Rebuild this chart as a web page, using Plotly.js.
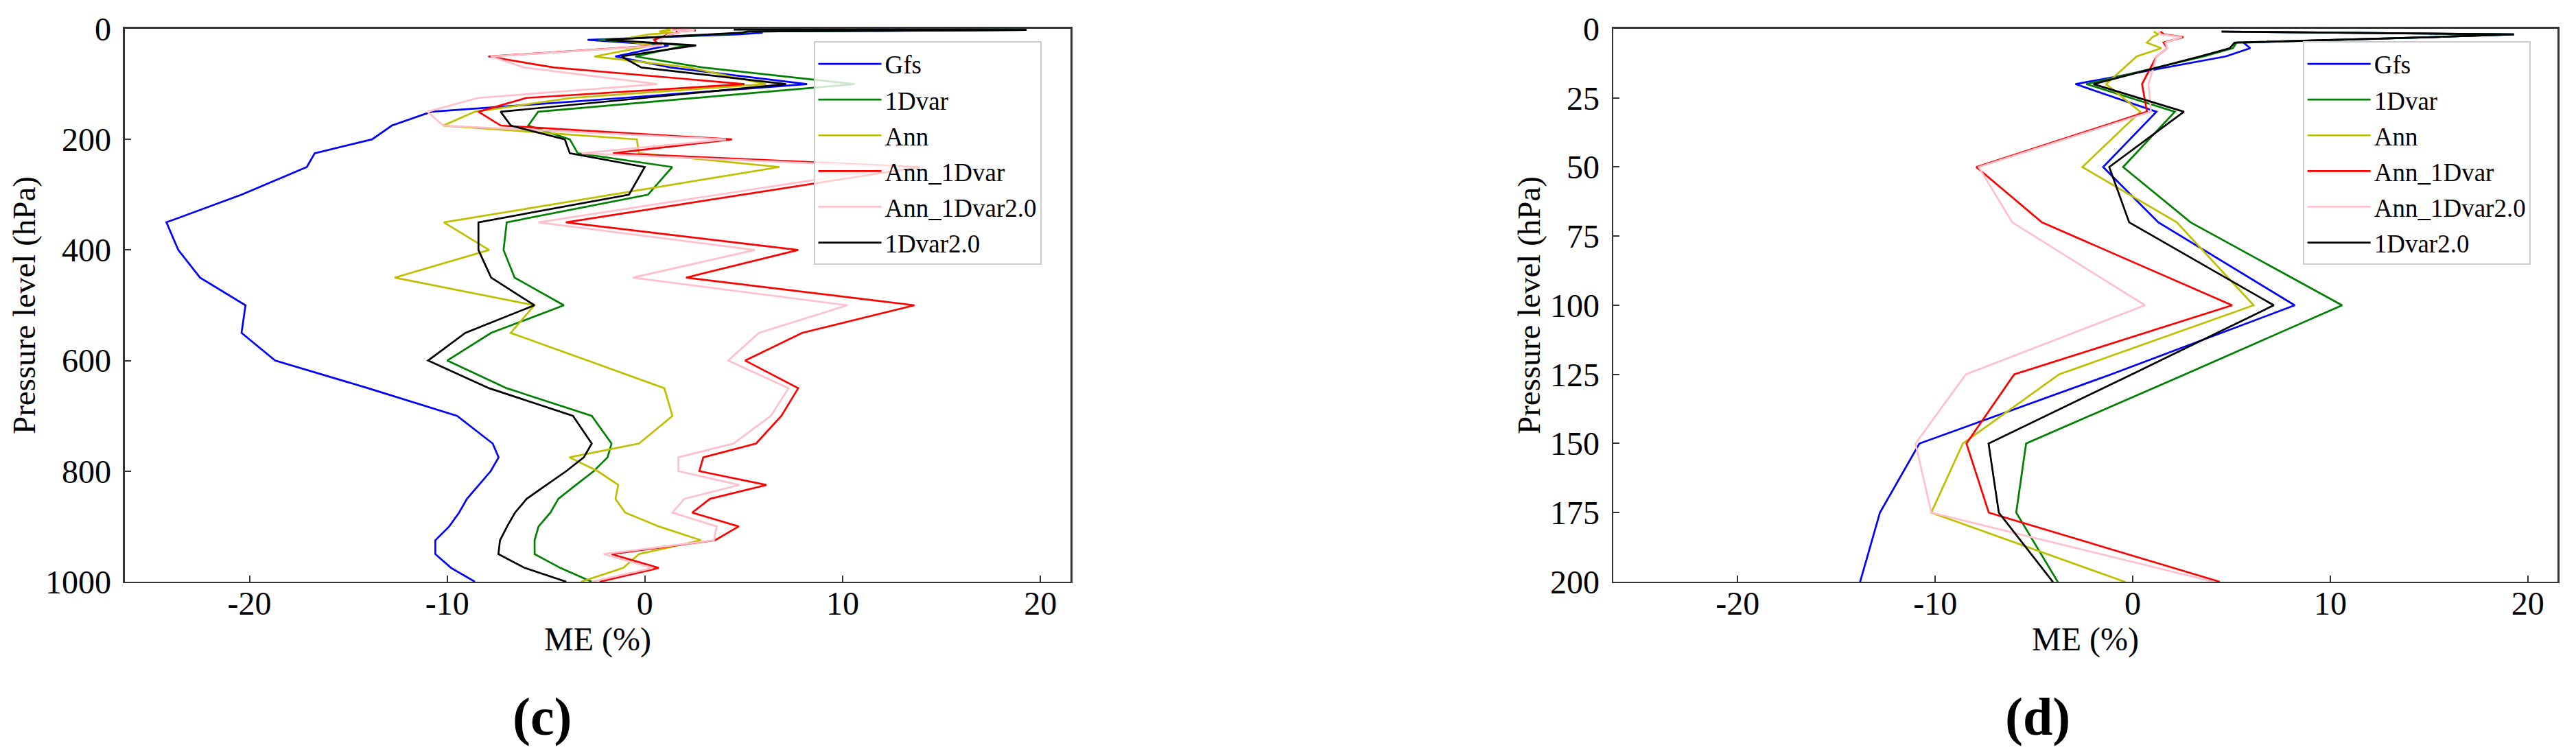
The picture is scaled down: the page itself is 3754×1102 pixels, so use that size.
<!DOCTYPE html>
<html>
<head>
<meta charset="utf-8">
<script src="https://cdn.plot.ly/plotly-3.0.1.min.js"></script>
<style>html,body{margin:0;padding:0;background:#fff}</style>
</head>
<body>
<div id="chart" style="width:3754px;height:1102px"></div>
<script>
// pressure levels (hPa)
const levels = [1, 2, 3, 5, 7, 10, 20, 30, 50, 70, 100, 125, 150, 175, 200, 225, 250, 300, 350, 400,
  450, 500, 550, 600, 650, 700, 750, 775, 800, 825, 850, 875, 900, 925, 950, 975, 1000];

// mean error (%) per level
const gfs = [4.5, 19.3, 15.2, 5.6, 5.95, 4.7, -2.9, 1.2, -1.5, 1.3, 8.2, -1.1, -10.8, -12.8, -13.8, -16.7, -17.1, -20.4, -24.2, -23.6,
  -22.5, -20.2, -20.4, -18.7, -14.0, -9.5, -7.7, -7.4, -7.8, -8.4, -9.0, -9.4, -9.9, -10.6, -10.6, -9.8, -8.6];
const dvar = [4.5, 19.3, 15.2, 5.25, 5.08, 3.6, -2.35, 2.13, -0.49, 2.93, 10.6, 2.64, -5.4, -5.9, -3.8, -3.4, 1.38, 0.15, -6.99, -7.15,
  -6.59, -4.1, -7.78, -10.0, -6.99, -2.69, -1.69, -1.89, -2.59, -3.49, -4.38, -4.78, -5.38, -5.58, -5.58, -4.28, -2.69];
const ann = [1.06, 1.3, 1.0, 0.72, 1.45, 0.2, -1.35, 0.38, -2.55, 2.23, 6.12, -3.73, -8.6, -10.2, -0.41, -0.31, 6.8, -1.65, -10.17, -7.88,
  -12.66, -5.59, -6.79, -2.9, 0.98, 1.39, -0.3, -3.82, -2.39, -1.35, -1.49, -1.0, 0.7, 2.83, -0.3, -1.1, -3.23];
const annDvar = [1.4, 1.6, 2.57, 1.56, 1.75, 1.2, 0.47, 0.72, -7.92, -4.6, 5.03, -6.0, -8.42, -7.29, 4.4, -1.61, 13.9, 4.9, -4.0, 7.75,
  2.08, 13.63, 7.95, 5.07, 7.75, 6.9, 5.62, 2.95, 2.75, 6.14, 3.29, 2.39, 4.74, 3.55, -1.69, 0.7, -2.29];
const annDvar2 = [1.3, 1.4, 2.5, 1.65, 1.75, 1.2, 0.8, 0.92, -7.8, -6.1, 0.62, -8.45, -11.0, -10.2, 4.1, -3.2, 12.8, 3.7, -5.39, 5.56,
  -0.61, 10.24, 5.76, 4.21, 7.26, 6.37, 4.48, 1.69, 1.69, 4.78, 1.99, 1.39, 3.63, 3.49, -2.09, 0.4, -2.69];
const dvar2 = [4.5, 19.3, 15.2, 5.16, 4.91, 3.4, -1.99, 2.59, -1.19, -0.18, 7.14, -0.05, -7.3, -6.78, -4.05, -3.8, -0.01, -0.81, -8.42, -8.42,
  -7.78, -5.59, -9.08, -10.97, -7.88, -3.64, -2.69, -3.09, -3.98, -4.98, -5.98, -6.57, -6.97, -7.33, -7.41, -6.08, -3.98];

const seriesNames = ['Gfs', '1Dvar', 'Ann', 'Ann_1Dvar', 'Ann_1Dvar2.0', '1Dvar2.0'];
const seriesValues = [gfs, dvar, ann, annDvar, annDvar2, dvar2];
const seriesColors = ['#0000ff', '#008000', '#bfbf00', '#ff0000', '#ffc0cb', '#000000'];

const xTickVals = [-20, -10, 0, 10, 20];
const xTickText = ['-20', '-10', '0', '10', '20'];
const yTickValsC = [0, 200, 400, 600, 800, 1000];
const yTickValsD = [0, 25, 50, 75, 100, 125, 150, 175, 200];

const serif = 'Liberation Serif, Times New Roman, serif';

const traces = [];
// panel (c): full column, panel (d): top 200 hPa
[['x', 'y', 'legend'], ['x2', 'y2', 'legend2']].forEach(function (p) {
    seriesNames.forEach(function (name, i) {
        traces.push({
            x: seriesValues[i],
            y: levels,
            name: name,
            legendgroup: p[2] + i,
            type: 'scatter',
            mode: 'lines',
            line: { color: seriesColors[i], width: 2.7 },
            xaxis: p[0],
            yaxis: p[1],
            legend: p[2],
            hoverinfo: 'skip'
        });
    });
});

const axisStyle = {
    showline: true,
    mirror: true,
    linecolor: '#333',
    linewidth: 2.5,
    ticks: 'inside',
    ticklen: 9,
    tickwidth: 2,
    tickcolor: '#333',
    showgrid: false,
    zeroline: false,
    tickfont: { family: serif, size: 48, color: '#000' }
};

function xAxis(domain, anchor) {
    return Object.assign({}, axisStyle, {
        domain: domain,
        anchor: anchor,
        range: [-26.3, 21.52],
        tickmode: 'array',
        tickvals: xTickVals,
        ticktext: xTickText,
        ticklabelstandoff: -12
    });
}

function yAxis(range, ticks, anchor) {
    return Object.assign({}, axisStyle, {
        domain: [0.2305, 0.9619],
        anchor: anchor,
        range: range,
        tickmode: 'array',
        tickvals: ticks,
        ticktext: ticks.map(String),
        ticklabelstandoff: 8,
        title: { text: 'Pressure level (hPa)', font: { family: serif, size: 47, color: '#000' }, standoff: 0 }
    });
}

function legendBox(x) {
    return {
        x: x,
        y: 0.9451,
        xanchor: 'left',
        yanchor: 'top',
        bgcolor: 'rgba(255,255,255,0.8)',
        bordercolor: '#cccccc',
        borderwidth: 2,
        itemwidth: 92,
        tracegroupgap: 1,
        font: { family: serif, size: 37, color: '#000' }
    };
}

function paperText(text, xPix, yPix, size) {
    return {
        text: text,
        x: xPix / 3754, y: 1 - yPix / 1102,
        xref: 'paper', yref: 'paper',
        xanchor: 'center', yanchor: 'middle',
        showarrow: false,
        font: { family: serif, size: size, color: '#000' }
    };
}

const layout = {
    width: 3754,
    height: 1102,
    margin: { l: 0, r: 0, t: 0, b: 0 },
    paper_bgcolor: '#fff',
    plot_bgcolor: '#fff',
    showlegend: true,
    xaxis: xAxis([0.04848, 0.41556], 'y'),
    yaxis: yAxis([1000, 0], yTickValsC, 'x'),
    xaxis2: xAxis([0.62627, 0.99294], 'y2'),
    yaxis2: yAxis([200, 0], yTickValsD, 'x2'),
    legend: legendBox(0.3158),
    legend2: legendBox(0.8939),
    annotations: [
        paperText('ME (%)', 871, 932, 48),
        paperText('ME (%)', 3039, 932, 48),
        paperText('<b>(c)</b>', 790, 1044, 78),
        paperText('<b>(d)</b>', 2969, 1044, 78)
    ]
};

Plotly.newPlot('chart', traces, layout, { displayModeBar: false, staticPlot: true });
</script>
</body>
</html>
